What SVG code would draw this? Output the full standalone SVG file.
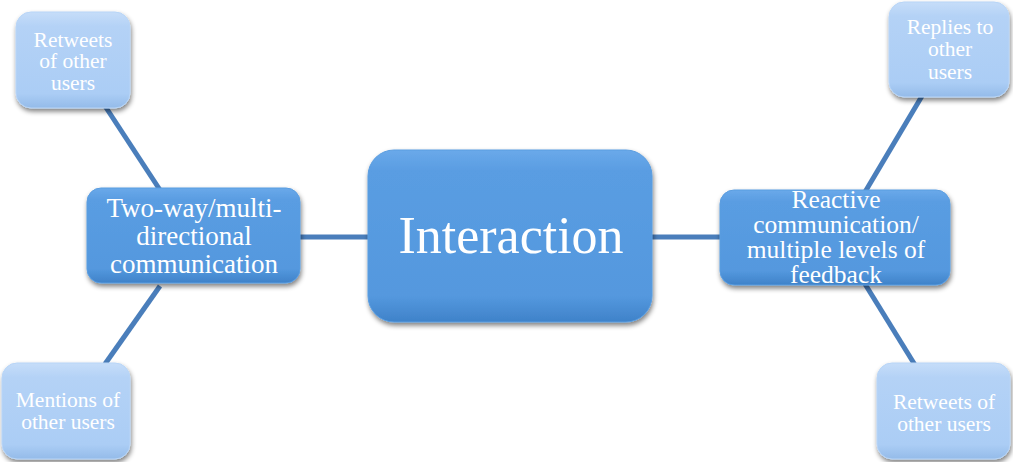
<svg xmlns="http://www.w3.org/2000/svg" width="1013" height="462" viewBox="0 0 1013 462">
  <defs>
    <linearGradient id="gDark" x1="0" y1="0" x2="0" y2="1">
      <stop offset="0" stop-color="#6aa9ea"/>
      <stop offset="0.12" stop-color="#5a9de2"/>
      <stop offset="0.85" stop-color="#5498de"/>
      <stop offset="1" stop-color="#3f82c9"/>
    </linearGradient>
    <linearGradient id="gLight" x1="0" y1="0" x2="0" y2="1">
      <stop offset="0" stop-color="#c6ddf9"/>
      <stop offset="0.15" stop-color="#b4d2f6"/>
      <stop offset="0.85" stop-color="#abcdf5"/>
      <stop offset="1" stop-color="#94bbe9"/>
    </linearGradient>
    <filter id="shadow" x="-10%" y="-10%" width="120%" height="130%">
      <feGaussianBlur in="SourceAlpha" stdDeviation="2.5"/>
      <feOffset dx="1" dy="3" result="b"/>
      <feComponentTransfer><feFuncA type="linear" slope="0.5"/></feComponentTransfer>
      <feMerge><feMergeNode/><feMergeNode in="SourceGraphic"/></feMerge>
    </filter>
  </defs>
  <style>
    .link { stroke: #4a7ebb; stroke-width: 5; fill: none; }
    .dark { fill: url(#gDark); stroke: #5a9de0; stroke-width: 1; filter: url(#shadow); }
    .light { fill: url(#gLight); stroke: #b8d5f7; stroke-width: 1; filter: url(#shadow); }
    text { font-family: "Liberation Serif", "Times New Roman", serif; fill: #ffffff; text-anchor: middle; }
    .big { font-size: 52px; }
    .mid { font-size: 27px; }
    .mid2 { font-size: 25.5px; }
    .sm { font-size: 21.5px; }
  </style>

  <g id="connectors">
    <line class="link" x1="105" y1="106" x2="160" y2="190"/>
    <line class="link" x1="160" y1="286" x2="105" y2="364"/>
    <line class="link" x1="298" y1="237" x2="370" y2="237"/>
    <line class="link" x1="650" y1="237" x2="722" y2="237"/>
    <line class="link" x1="865" y1="192" x2="922" y2="96"/>
    <line class="link" x1="865" y1="284" x2="915" y2="365"/>
  </g>

  <g id="interaction">
    <rect class="dark" x="368" y="150" width="284" height="172" rx="26"/>
    <text class="big" x="511" y="253">Interaction</text>
  </g>

  <g id="two-way">
    <rect class="dark" x="87" y="188" width="213" height="95" rx="14"/>
    <text class="mid"><tspan x="194" y="217">Two-way/multi-</tspan><tspan x="194" y="245">directional</tspan><tspan x="194" y="273">communication</tspan></text>
  </g>

  <g id="reactive">
    <rect class="dark" x="720" y="190" width="230" height="95" rx="14"/>
    <text class="mid2"><tspan x="836" y="208">Reactive</tspan><tspan x="836" y="233">communication/</tspan><tspan x="836" y="258">multiple levels of</tspan><tspan x="836" y="283">feedback</tspan></text>
  </g>

  <g id="retweets-top-left">
    <rect class="light" x="16" y="12" width="114" height="96" rx="15"/>
    <text class="sm"><tspan x="73" y="47">Retweets</tspan><tspan x="73" y="68">of other</tspan><tspan x="73" y="90">users</tspan></text>
  </g>

  <g id="replies">
    <rect class="light" x="889" y="2" width="120" height="95" rx="15"/>
    <text class="sm"><tspan x="950" y="34">Replies to</tspan><tspan x="950" y="56">other</tspan><tspan x="950" y="79">users</tspan></text>
  </g>

  <g id="mentions">
    <rect class="light" x="2" y="363" width="128" height="96" rx="15"/>
    <text class="sm"><tspan x="68" y="407">Mentions of</tspan><tspan x="68" y="429">other users</tspan></text>
  </g>

  <g id="retweets-bottom-right">
    <rect class="light" x="877" y="363" width="133" height="96" rx="15"/>
    <text class="sm"><tspan x="944" y="409">Retweets of</tspan><tspan x="944" y="431">other users</tspan></text>
  </g>
</svg>
